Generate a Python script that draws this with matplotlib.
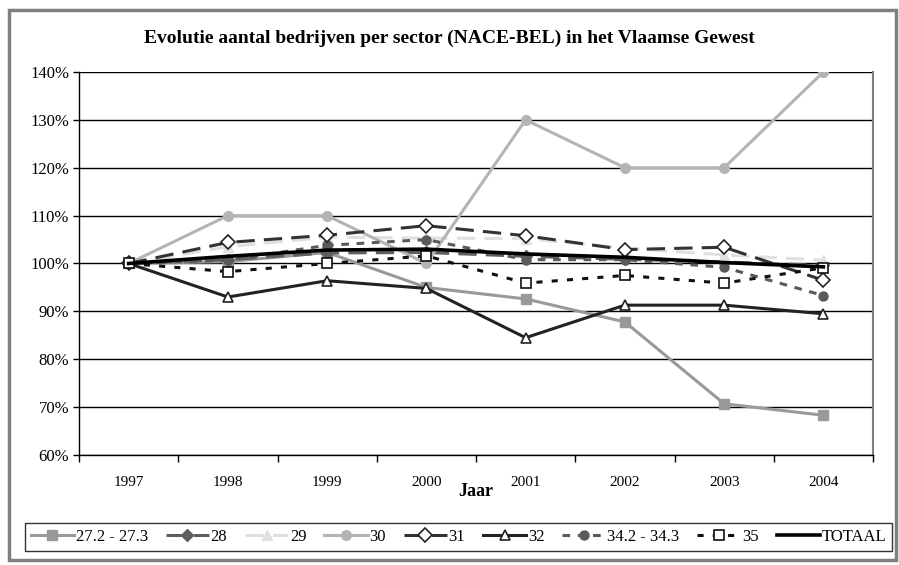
import numpy as np
import matplotlib
matplotlib.use("Agg")
import matplotlib.pyplot as plt
from matplotlib.patches import Rectangle

plt.rcParams['font.family'] = ['Liberation Serif', 'DejaVu Serif']

years = ['1997', '1998', '1999', '2000', '2001', '2002', '2003', '2004']

s_272 = [100, 100.4, 102.3, 95.0, 92.6, 87.8, 70.7, 68.3]
s_28 = [100, 100.8, 102.2, 102.3, 101.5, 100.9, 100.3, 99.6]
s_29 = [100, 103.5, 105.5, 105.3, 105.2, 103.2, 101.8, 100.7]
s_30 = [100, 110, 110, 100, 130, 120, 120, 140]
s_31 = [100, 104.4, 105.9, 107.9, 105.8, 102.9, 103.4, 96.5]
s_32 = [100, 93.0, 96.4, 94.8, 84.5, 91.3, 91.3, 89.5]
s_342 = [100, 100.7, 103.8, 105.0, 100.8, 100.8, 99.2, 93.3]
s_35 = [100, 98.3, 100.0, 101.6, 95.9, 97.5, 95.9, 99.1]
totaal = [100, 101.5, 102.8, 103.0, 102.0, 101.3, 100.2, 99.3]

labels = ['27.2 - 27.3', '28', '29', '30', '31', '32', '34.2 - 34.3', '35', 'TOTAAL']

fig = plt.figure(figsize=(8.99, 5.65), dpi=100)
ax = fig.add_axes([79 / 899, 110 / 565, 794 / 899, 383 / 565])

x = np.arange(len(years))
ms = 7

ax.plot(x, s_272, color='#999999', lw=2.2, marker='s', ms=ms, mfc='#999999', mec='#999999', label=labels[0], zorder=3)
ax.plot(x, s_28, color='#5f5f5f', lw=2.2, dashes=(6, 3), marker='D', ms=6, mfc='#5f5f5f', mec='#5f5f5f', label=labels[1], zorder=3)
ax.plot(x, s_29, color='#e0e0e0', lw=2.2, dashes=(6, 3), marker='^', ms=ms, mfc='#e0e0e0', mec='#e0e0e0', label=labels[2], zorder=3)
ax.plot(x, s_30, color='#b4b4b4', lw=2.2, marker='o', ms=ms, mfc='#b4b4b4', mec='#b4b4b4', label=labels[3], zorder=3)
ax.plot(x, s_31, color='#333333', lw=2.2, dashes=(6, 3), marker='D', ms=7, mfc='white', mec='#222222', mew=1.2, label=labels[4], zorder=4)
ax.plot(x, s_32, color='#222222', lw=2.2, marker='^', ms=ms, mfc='white', mec='#222222', mew=1.2, label=labels[5], zorder=4)
ax.plot(x, s_342, color='#5a5a5a', lw=2.2, dashes=(2.5, 2.5), marker='o', ms=6.5, mfc='#5a5a5a', mec='#5a5a5a', label=labels[6], zorder=3)
ax.plot(x, s_35, color='#111111', lw=2.2, dashes=(2, 3), marker='s', ms=ms, mfc='white', mec='#111111', mew=1.2, label=labels[7], zorder=4)
ax.plot(x, totaal, color='black', lw=2.6, label=labels[8], zorder=5)

ax.set_xlim(-0.5, len(years) - 0.5)
ax.set_ylim(60, 140)
yt = np.arange(60, 141, 10)
ax.set_yticks(yt)
ax.set_yticklabels([f'{v}%' for v in yt], fontsize=12)
ax.yaxis.grid(True, color='black', lw=1)
ax.set_axisbelow(True)

# category labels sit between the boundary ticks
ax.set_xticks(np.arange(-0.5, len(years)), minor=False)
ax.set_xticklabels([])
ax.set_xticks(x, minor=True)
ax.set_xticklabels(years, minor=True, fontsize=11)
ax.tick_params(axis='x', which='major', length=5, direction='out', width=1)
ax.tick_params(axis='x', which='minor', length=0, pad=15)
ax.tick_params(axis='y', length=4, width=1, pad=3)

ax.spines['top'].set_visible(False)
ax.spines['right'].set_color('#808080')
ax.spines['right'].set_linewidth(1.5)
ax.spines['left'].set_linewidth(1)
ax.spines['bottom'].set_linewidth(1)

ax.set_xlabel('Jaar', fontsize=13, fontweight='bold', labelpad=-4)
fig.text(0.5, 1 - 38 / 565, 'Evolutie aantal bedrijven per sector (NACE-BEL) in het Vlaamse Gewest',
         ha='center', va='center', fontsize=14, fontweight='bold')

leg = fig.legend(loc='center', bbox_to_anchor=(25 / 899, 11 / 565, 867 / 899, 34 / 565),
                 ncol=9, mode='expand', fontsize=12, frameon=True, fancybox=False,
                 edgecolor='black', handlelength=2.6, handletextpad=0.1, columnspacing=0.6,
                 borderaxespad=0, borderpad=0.35)
leg.get_frame().set_linewidth(1)

fig.patches.append(Rectangle((9 / 899, 5 / 565), 887 / 899, 550 / 565, transform=fig.transFigure,
                             fill=False, edgecolor='#808080', lw=2.5))

fig.savefig('out.png', dpi=100)
